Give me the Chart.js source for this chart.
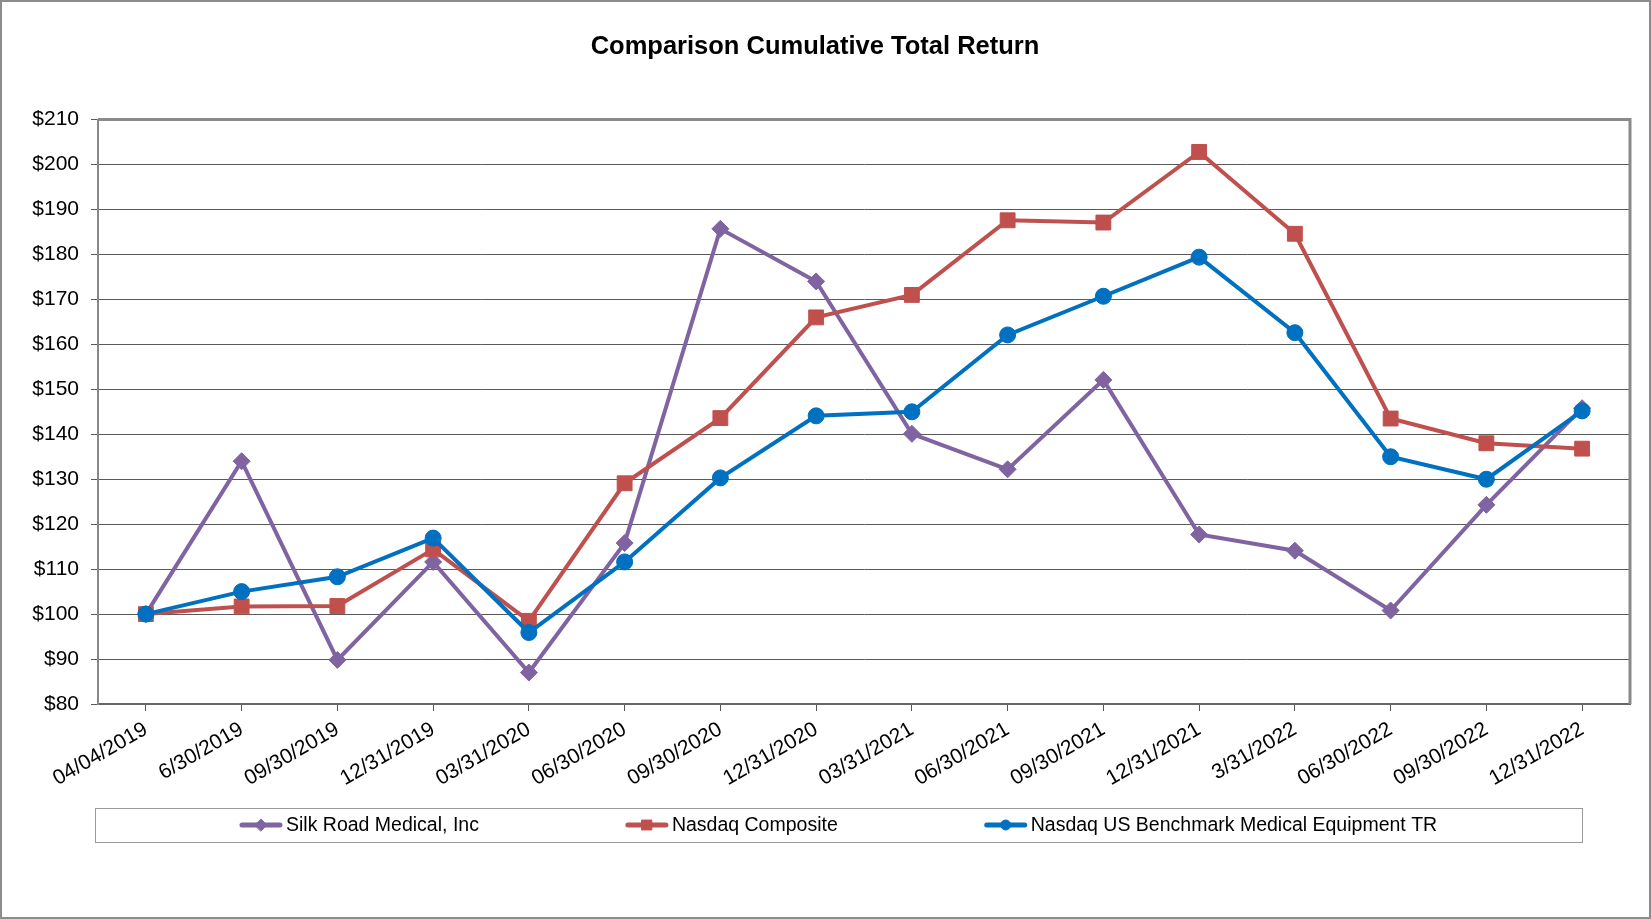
<!DOCTYPE html>
<html>
<head>
<meta charset="utf-8">
<title>Comparison Cumulative Total Return</title>
<script src="https://cdn.jsdelivr.net/npm/chart.js@4.4.1/dist/chart.umd.min.js"></script>
<style>
  html, body { margin: 0; padding: 0; background: #fff; }
  #wrap { width: 1651px; height: 919px; }
</style>
</head>
<body>
<div id="wrap"><canvas id="returnChart" width="1651" height="919"></canvas></div>
<script>
// Data
const categories = [
  '04/04/2019', '6/30/2019', '09/30/2019', '12/31/2019', '03/31/2020', '06/30/2020',
  '09/30/2020', '12/31/2020', '03/31/2021', '06/30/2021', '09/30/2021', '12/31/2021',
  '3/31/2022', '06/30/2022', '09/30/2022', '12/31/2022'
];
const silkRoad = [100, 134.0, 89.8, 111.6, 87.0, 115.8, 185.7, 174.0, 140.1, 132.2, 152.1, 117.7, 114.1, 100.8, 124.3, 145.8];
const nasdaqComposite = [100, 101.7, 101.8, 114.4, 98.5, 129.1, 143.6, 166.0, 171.0, 187.6, 187.1, 202.8, 184.6, 143.5, 138.0, 136.8];
const medEquipment = [100, 105.0, 108.3, 116.9, 95.9, 111.6, 130.3, 144.1, 145.0, 162.1, 170.7, 179.4, 162.6, 135.0, 130.0, 145.2];

const Y_MIN = 80;
const Y_MAX = 210;
const Y_STEP = 10;

const FONT = '"Liberation Sans", Arial, sans-serif';

// Legend entries in reference order
const legendItems = [
  { label: 'Silk Road Medical, Inc', color: '#8064A2', style: 'rectRot', radius: 6 },
  { label: 'Nasdaq Composite', color: '#C0504D', style: 'rect', radius: 7 },
  { label: 'Nasdaq US Benchmark Medical Equipment TR', color: '#0070C0', style: 'circle', radius: 5 }
];

// Background, plot frame, outer frame and boxed legend
const framePlugin = {
  id: 'frame',
  beforeDraw(chart) {
    const ctx = chart.ctx;
    ctx.save();
    ctx.fillStyle = '#ffffff';
    ctx.fillRect(0, 0, chart.width, chart.height);
    ctx.restore();
  },
  beforeDatasetsDraw(chart) {
    const { ctx, chartArea } = chart;
    ctx.save();
    ctx.strokeStyle = '#8a8a8a';
    ctx.lineWidth = 3;
    ctx.beginPath();
    ctx.moveTo(chartArea.left, chartArea.top);
    ctx.lineTo(chartArea.right, chartArea.top);
    ctx.lineTo(chartArea.right, chartArea.bottom);
    ctx.stroke();
    ctx.restore();
  },
  afterDraw(chart) {
    const { ctx, chartArea } = chart;
    const xScale = chart.scales.x;

    // outer frame
    ctx.save();
    ctx.strokeStyle = '#8c8c8c';
    ctx.lineWidth = 2;
    ctx.strokeRect(1, 1, chart.width - 2, chart.height - 2);

    // legend box
    const boxLeft = chartArea.left - 3;
    const boxRight = xScale.getPixelForValue(categories.length - 1);
    const boxTop = xScale.bottom + 14;
    const boxHeight = 34;
    ctx.strokeStyle = '#9a9a9a';
    ctx.lineWidth = 1;
    ctx.strokeRect(Math.round(boxLeft) + 0.5, Math.round(boxTop) + 0.5, Math.round(boxRight - boxLeft), boxHeight);

    // legend items
    const sample = 42, textGap = 4, gap = 147;
    ctx.font = '19.5px ' + FONT;
    const widths = legendItems.map(it => sample + textGap + ctx.measureText(it.label).width);
    const total = widths.reduce((a, b) => a + b, 0) + gap * (legendItems.length - 1);
    let x = (boxLeft + boxRight) / 2 - total / 2;
    const cy = boxTop + boxHeight / 2;

    legendItems.forEach((it, i) => {
      ctx.strokeStyle = it.color;
      ctx.fillStyle = it.color;
      ctx.lineWidth = 5;
      ctx.lineCap = 'round';
      ctx.beginPath();
      ctx.moveTo(x + 2, cy);
      ctx.lineTo(x + sample - 2, cy);
      ctx.stroke();
      ctx.lineWidth = 1;
      Chart.helpers.drawPoint(ctx, { pointStyle: it.style, radius: it.radius, rotation: 0, borderWidth: 1 }, x + sample / 2, cy);

      ctx.fillStyle = '#000000';
      ctx.textAlign = 'left';
      ctx.textBaseline = 'middle';
      ctx.fillText(it.label, x + sample + textGap, cy + 1);
      x += widths[i] + gap;
    });
    ctx.restore();
  }
};

const ctx = document.getElementById('returnChart').getContext('2d');
const returnChart = new Chart(ctx, {
  type: 'line',
  data: {
    labels: categories,
    datasets: [{
      label: 'Silk Road Medical, Inc',
      data: silkRoad,
      borderColor: '#8064A2',
      backgroundColor: '#8064A2',
      borderWidth: 4,
      pointStyle: 'rectRot',
      pointRadius: 8.5,
      pointBorderWidth: 1,
      tension: 0,
      order: 3
    }, {
      label: 'Nasdaq Composite',
      data: nasdaqComposite,
      borderColor: '#C0504D',
      backgroundColor: '#C0504D',
      borderWidth: 4,
      pointStyle: 'rect',
      pointRadius: 10.5,
      pointBorderWidth: 1,
      tension: 0,
      order: 2
    }, {
      label: 'Nasdaq US Benchmark Medical Equipment TR',
      data: medEquipment,
      borderColor: '#0070C0',
      backgroundColor: '#0070C0',
      borderWidth: 4,
      pointStyle: 'circle',
      pointRadius: 8,
      pointBorderWidth: 1,
      tension: 0,
      order: 1
    }]
  },
  options: {
    responsive: false,
    devicePixelRatio: 1,
    animation: false,
    layout: {
      padding: { left: 0, right: 21, top: 0, bottom: 125 }
    },
    scales: {
      x: {
        type: 'category',
        offset: true,
        grid: {
          drawOnChartArea: false,
          tickLength: 7,
          color: '#555555'
        },
        border: { color: '#666666', width: 2 },
        ticks: {
          color: '#000000',
          font: { family: FONT, size: 21 },
          minRotation: 30,
          maxRotation: 30,
          autoSkip: false,
          padding: 6
        },
        afterFit(scale) { scale.height = 90; }
      },
      y: {
        min: Y_MIN,
        max: Y_MAX,
        grid: {
          color: '#5a5a5a',
          lineWidth: 1,
          tickLength: 7
        },
        border: { color: '#888888', width: 2 },
        ticks: {
          stepSize: Y_STEP,
          color: '#000000',
          font: { family: FONT, size: 21 },
          padding: 12,
          callback: v => '$' + v
        },
        afterFit(scale) { scale.width = 98; }
      }
    },
    plugins: {
      legend: { display: false },
      tooltip: { enabled: false },
      title: {
        display: true,
        text: 'Comparison Cumulative Total Return',
        color: '#000000',
        font: { family: FONT, size: 25.5, weight: 'bold' },
        padding: { top: 32, bottom: 57 }
      }
    }
  },
  plugins: [framePlugin]
});
</script>
</body>
</html>
